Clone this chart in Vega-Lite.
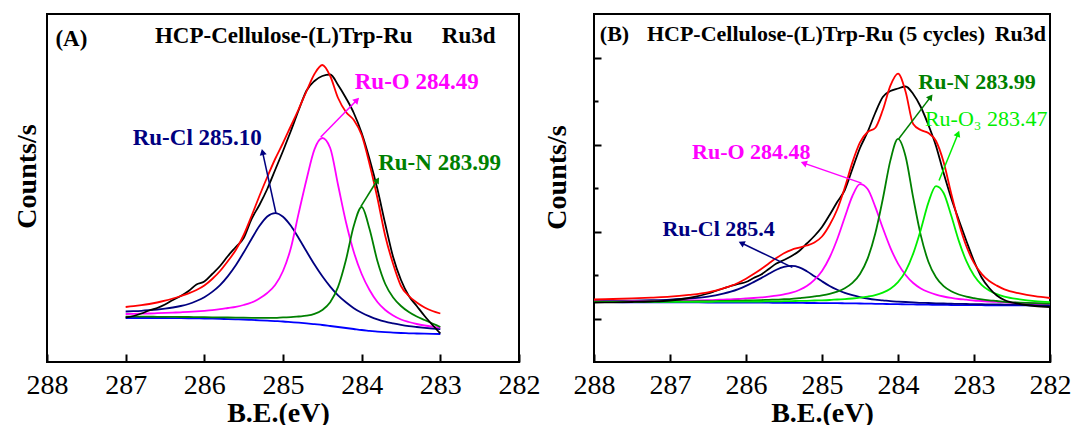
{
"$schema": "https://vega.github.io/schema/vega-lite/v6.json",
"background": "white",
"padding": {"left": 12, "top": 13, "right": 0, "bottom": 0},
"spacing": 75,
"bounds": "flush",
"config": {
  "view": {"stroke": "#000", "strokeWidth": 2},
  "font": "Liberation Serif",
  "axis": {"grid": false, "domain": false, "labelFont": "Liberation Serif", "titleFont": "Liberation Serif", "labelFontSize": 28, "titleFontSize": 28, "titleFontWeight": "bold", "labelColor": "#000", "titleColor": "#000", "tickColor": "#000", "tickWidth": 2}
},
"datasets": {
"A": [
{"E":287,"s":"bg","v":44},{"E":286.9,"s":"bg","v":44},{"E":286.8,"s":"bg","v":44},{"E":286.7,"s":"bg","v":44},{"E":286.6,"s":"bg","v":44},{"E":286.5,"s":"bg","v":44},{"E":286.4,"s":"bg","v":43.9},{"E":286.3,"s":"bg","v":43.8},{"E":286.2,"s":"bg","v":43.7},{"E":286.1,"s":"bg","v":43.6},{"E":286,"s":"bg","v":43.5},{"E":285.9,"s":"bg","v":43.3},{"E":285.8,"s":"bg","v":43.1},{"E":285.7,"s":"bg","v":42.9},{"E":285.6,"s":"bg","v":42.7},{"E":285.5,"s":"bg","v":42.5},{"E":285.4,"s":"bg","v":42.1},{"E":285.3,"s":"bg","v":41.7},{"E":285.2,"s":"bg","v":41.3},{"E":285.1,"s":"bg","v":40.9},{"E":285,"s":"bg","v":40.5},{"E":284.9,"s":"bg","v":39.9},{"E":284.8,"s":"bg","v":39.3},{"E":284.7,"s":"bg","v":38.6},{"E":284.6,"s":"bg","v":37.8},{"E":284.5,"s":"bg","v":37},{"E":284.4,"s":"bg","v":36},{"E":284.3,"s":"bg","v":35},{"E":284.2,"s":"bg","v":34},{"E":284.1,"s":"bg","v":33},{"E":284,"s":"bg","v":32},{"E":283.9,"s":"bg","v":31.2},{"E":283.8,"s":"bg","v":30.4},{"E":283.7,"s":"bg","v":29.8},{"E":283.6,"s":"bg","v":29.4},{"E":283.5,"s":"bg","v":29},{"E":283.4,"s":"bg","v":28.7},{"E":283.3,"s":"bg","v":28.5},{"E":283.2,"s":"bg","v":28.3},{"E":283.1,"s":"bg","v":28.1},{"E":283,"s":"bg","v":28},
{"E":287,"s":"Cl","v":50.5},{"E":286.9,"s":"Cl","v":50.8},{"E":286.8,"s":"Cl","v":51.2},{"E":286.7,"s":"Cl","v":51.8},{"E":286.6,"s":"Cl","v":52.5},{"E":286.5,"s":"Cl","v":53.4},{"E":286.4,"s":"Cl","v":54.5},{"E":286.3,"s":"Cl","v":56},{"E":286.2,"s":"Cl","v":58},{"E":286.1,"s":"Cl","v":61},{"E":286,"s":"Cl","v":64.8},{"E":285.9,"s":"Cl","v":70.1},{"E":285.8,"s":"Cl","v":76.9},{"E":285.7,"s":"Cl","v":85.9},{"E":285.6,"s":"Cl","v":96.7},{"E":285.5,"s":"Cl","v":109.5},{"E":285.4,"s":"Cl","v":123},{"E":285.3,"s":"Cl","v":135.9},{"E":285.2,"s":"Cl","v":145.5},{"E":285.1,"s":"Cl","v":148.9},{"E":285,"s":"Cl","v":145.3},{"E":284.9,"s":"Cl","v":136.2},{"E":284.8,"s":"Cl","v":123.8},{"E":284.7,"s":"Cl","v":110.5},{"E":284.6,"s":"Cl","v":97.5},{"E":284.5,"s":"Cl","v":85.7},{"E":284.4,"s":"Cl","v":75.4},{"E":284.3,"s":"Cl","v":66.6},{"E":284.2,"s":"Cl","v":59.7},{"E":284.1,"s":"Cl","v":53.8},{"E":284,"s":"Cl","v":49.2},{"E":283.9,"s":"Cl","v":45.6},{"E":283.8,"s":"Cl","v":42.6},{"E":283.7,"s":"Cl","v":40.3},{"E":283.6,"s":"Cl","v":38.6},{"E":283.5,"s":"Cl","v":37.1},{"E":283.4,"s":"Cl","v":35.9},{"E":283.3,"s":"Cl","v":35},{"E":283.2,"s":"Cl","v":34.2},{"E":283.1,"s":"Cl","v":33.5},{"E":283,"s":"Cl","v":32.9},
{"E":287,"s":"O","v":48},{"E":286.9,"s":"O","v":48.1},{"E":286.8,"s":"O","v":48.3},{"E":286.7,"s":"O","v":48.5},{"E":286.6,"s":"O","v":48.8},{"E":286.5,"s":"O","v":49.1},{"E":286.4,"s":"O","v":49.4},{"E":286.3,"s":"O","v":49.7},{"E":286.2,"s":"O","v":50.1},{"E":286.1,"s":"O","v":50.6},{"E":286,"s":"O","v":51.2},{"E":285.9,"s":"O","v":51.9},{"E":285.8,"s":"O","v":52.8},{"E":285.7,"s":"O","v":54},{"E":285.6,"s":"O","v":55.2},{"E":285.5,"s":"O","v":57},{"E":285.4,"s":"O","v":59.5},{"E":285.3,"s":"O","v":63.5},{"E":285.2,"s":"O","v":69},{"E":285.1,"s":"O","v":77},{"E":285,"s":"O","v":91},{"E":284.9,"s":"O","v":114},{"E":284.8,"s":"O","v":149.1},{"E":284.7,"s":"O","v":182.8},{"E":284.6,"s":"O","v":212.6},{"E":284.5,"s":"O","v":224},{"E":284.4,"s":"O","v":214},{"E":284.3,"s":"O","v":177},{"E":284.2,"s":"O","v":140},{"E":284.1,"s":"O","v":110},{"E":284,"s":"O","v":88},{"E":283.9,"s":"O","v":72},{"E":283.8,"s":"O","v":60},{"E":283.7,"s":"O","v":52},{"E":283.6,"s":"O","v":46.5},{"E":283.5,"s":"O","v":42.5},{"E":283.4,"s":"O","v":40},{"E":283.3,"s":"O","v":38},{"E":283.2,"s":"O","v":36.5},{"E":283.1,"s":"O","v":35.3},{"E":283,"s":"O","v":34.3},
{"E":287,"s":"N","v":45.3},{"E":286.9,"s":"N","v":45.3},{"E":286.8,"s":"N","v":45.3},{"E":286.7,"s":"N","v":45.3},{"E":286.6,"s":"N","v":45.2},{"E":286.5,"s":"N","v":45.2},{"E":286.4,"s":"N","v":45.1},{"E":286.3,"s":"N","v":45},{"E":286.2,"s":"N","v":45},{"E":286.1,"s":"N","v":44.9},{"E":286,"s":"N","v":44.8},{"E":285.9,"s":"N","v":44.7},{"E":285.8,"s":"N","v":44.6},{"E":285.7,"s":"N","v":44.5},{"E":285.6,"s":"N","v":44.4},{"E":285.5,"s":"N","v":44.3},{"E":285.4,"s":"N","v":44.2},{"E":285.3,"s":"N","v":44.1},{"E":285.2,"s":"N","v":44.1},{"E":285.1,"s":"N","v":44.2},{"E":285,"s":"N","v":44.6},{"E":284.9,"s":"N","v":44.8},{"E":284.8,"s":"N","v":45.5},{"E":284.7,"s":"N","v":46.3},{"E":284.6,"s":"N","v":48.1},{"E":284.5,"s":"N","v":52},{"E":284.4,"s":"N","v":59.7},{"E":284.3,"s":"N","v":75.1},{"E":284.2,"s":"N","v":102},{"E":284.1,"s":"N","v":136.3},{"E":284,"s":"N","v":155},{"E":283.9,"s":"N","v":133},{"E":283.8,"s":"N","v":101},{"E":283.7,"s":"N","v":78},{"E":283.6,"s":"N","v":64.5},{"E":283.5,"s":"N","v":56},{"E":283.4,"s":"N","v":50},{"E":283.3,"s":"N","v":45.5},{"E":283.2,"s":"N","v":42},{"E":283.1,"s":"N","v":38.5},{"E":283,"s":"N","v":35},
{"E":287,"s":"exp","v":44.5},{"E":286.9,"s":"exp","v":46},{"E":286.8,"s":"exp","v":48.5},{"E":286.7,"s":"exp","v":51.5},{"E":286.6,"s":"exp","v":54},{"E":286.5,"s":"exp","v":57.5},{"E":286.4,"s":"exp","v":62},{"E":286.3,"s":"exp","v":66},{"E":286.2,"s":"exp","v":71},{"E":286.1,"s":"exp","v":77.5},{"E":286,"s":"exp","v":80.5},{"E":285.9,"s":"exp","v":88},{"E":285.8,"s":"exp","v":96},{"E":285.7,"s":"exp","v":106},{"E":285.6,"s":"exp","v":115},{"E":285.5,"s":"exp","v":124},{"E":285.4,"s":"exp","v":143},{"E":285.3,"s":"exp","v":157},{"E":285.2,"s":"exp","v":173},{"E":285.1,"s":"exp","v":192},{"E":285,"s":"exp","v":211},{"E":284.9,"s":"exp","v":231},{"E":284.8,"s":"exp","v":252},{"E":284.7,"s":"exp","v":271.5},{"E":284.6,"s":"exp","v":281},{"E":284.5,"s":"exp","v":286},{"E":284.4,"s":"exp","v":287.5},{"E":284.3,"s":"exp","v":277},{"E":284.2,"s":"exp","v":264},{"E":284.1,"s":"exp","v":249},{"E":284,"s":"exp","v":229},{"E":283.9,"s":"exp","v":203},{"E":283.8,"s":"exp","v":173},{"E":283.7,"s":"exp","v":138},{"E":283.6,"s":"exp","v":105},{"E":283.5,"s":"exp","v":82},{"E":283.4,"s":"exp","v":66},{"E":283.3,"s":"exp","v":56},{"E":283.2,"s":"exp","v":46},{"E":283.1,"s":"exp","v":37},{"E":283,"s":"exp","v":28.5},
{"E":287,"s":"fit","v":55},{"E":286.9,"s":"fit","v":55.8},{"E":286.8,"s":"fit","v":56.8},{"E":286.7,"s":"fit","v":58},{"E":286.6,"s":"fit","v":59.5},{"E":286.5,"s":"fit","v":61.3},{"E":286.4,"s":"fit","v":63.5},{"E":286.3,"s":"fit","v":66},{"E":286.2,"s":"fit","v":68.7},{"E":286.1,"s":"fit","v":72},{"E":286,"s":"fit","v":76.5},{"E":285.9,"s":"fit","v":83},{"E":285.8,"s":"fit","v":91},{"E":285.7,"s":"fit","v":101},{"E":285.6,"s":"fit","v":112},{"E":285.5,"s":"fit","v":127},{"E":285.4,"s":"fit","v":146},{"E":285.3,"s":"fit","v":166},{"E":285.2,"s":"fit","v":185},{"E":285.1,"s":"fit","v":203},{"E":285,"s":"fit","v":219},{"E":284.9,"s":"fit","v":236},{"E":284.8,"s":"fit","v":253},{"E":284.7,"s":"fit","v":271},{"E":284.6,"s":"fit","v":288},{"E":284.5,"s":"fit","v":297},{"E":284.4,"s":"fit","v":286},{"E":284.3,"s":"fit","v":264},{"E":284.2,"s":"fit","v":250},{"E":284.1,"s":"fit","v":242},{"E":284,"s":"fit","v":227},{"E":283.9,"s":"fit","v":198},{"E":283.8,"s":"fit","v":164},{"E":283.7,"s":"fit","v":126},{"E":283.6,"s":"fit","v":98},{"E":283.5,"s":"fit","v":76},{"E":283.4,"s":"fit","v":66},{"E":283.3,"s":"fit","v":59.5},{"E":283.2,"s":"fit","v":54.5},{"E":283.1,"s":"fit","v":51},{"E":283,"s":"fit","v":48.5}
],
"B": [
{"E":288,"s":"bg","v":59.8},{"E":287.75,"s":"bg","v":59.8},{"E":287.5,"s":"bg","v":59.7},{"E":287.25,"s":"bg","v":59.7},{"E":287,"s":"bg","v":59.6},{"E":286.75,"s":"bg","v":59.6},{"E":286.5,"s":"bg","v":59.5},{"E":286.4,"s":"bg","v":59.5},{"E":286.3,"s":"bg","v":59.5},{"E":286.2,"s":"bg","v":59.5},{"E":286.1,"s":"bg","v":59.4},{"E":286,"s":"bg","v":59.4},{"E":285.9,"s":"bg","v":59.4},{"E":285.8,"s":"bg","v":59.3},{"E":285.7,"s":"bg","v":59.3},{"E":285.6,"s":"bg","v":59.2},{"E":285.5,"s":"bg","v":59.2},{"E":285.4,"s":"bg","v":59.1},{"E":285.3,"s":"bg","v":59.1},{"E":285.2,"s":"bg","v":59},{"E":285.1,"s":"bg","v":59},{"E":285,"s":"bg","v":58.9},{"E":284.9,"s":"bg","v":58.8},{"E":284.8,"s":"bg","v":58.8},{"E":284.7,"s":"bg","v":58.7},{"E":284.6,"s":"bg","v":58.6},{"E":284.5,"s":"bg","v":58.5},{"E":284.4,"s":"bg","v":58.4},{"E":284.3,"s":"bg","v":58.2},{"E":284.2,"s":"bg","v":58.1},{"E":284.1,"s":"bg","v":57.9},{"E":284,"s":"bg","v":57.8},{"E":283.9,"s":"bg","v":57.7},{"E":283.8,"s":"bg","v":57.6},{"E":283.7,"s":"bg","v":57.4},{"E":283.6,"s":"bg","v":57.3},{"E":283.5,"s":"bg","v":57.2},{"E":283.4,"s":"bg","v":57.1},{"E":283.3,"s":"bg","v":57},{"E":283.2,"s":"bg","v":56.9},{"E":283.1,"s":"bg","v":56.9},{"E":283,"s":"bg","v":56.8},{"E":282.9,"s":"bg","v":56.8},{"E":282.8,"s":"bg","v":56.7},{"E":282.7,"s":"bg","v":56.7},{"E":282.6,"s":"bg","v":56.6},{"E":282.4,"s":"bg","v":56.6},{"E":282.2,"s":"bg","v":56.5},{"E":282,"s":"bg","v":56.5},
{"E":288,"s":"Cl","v":60.9},{"E":287.75,"s":"Cl","v":61.1},{"E":287.5,"s":"Cl","v":61.4},{"E":287.25,"s":"Cl","v":61.8},{"E":287,"s":"Cl","v":62.4},{"E":286.75,"s":"Cl","v":63.5},{"E":286.5,"s":"Cl","v":65.4},{"E":286.4,"s":"Cl","v":66.6},{"E":286.3,"s":"Cl","v":68.3},{"E":286.2,"s":"Cl","v":70.3},{"E":286.1,"s":"Cl","v":72.9},{"E":286,"s":"Cl","v":76.1},{"E":285.9,"s":"Cl","v":79.9},{"E":285.8,"s":"Cl","v":83.9},{"E":285.7,"s":"Cl","v":88.2},{"E":285.6,"s":"Cl","v":92.2},{"E":285.5,"s":"Cl","v":95.1},{"E":285.4,"s":"Cl","v":96.1},{"E":285.3,"s":"Cl","v":94.7},{"E":285.2,"s":"Cl","v":90.8},{"E":285.1,"s":"Cl","v":85.8},{"E":285,"s":"Cl","v":80.7},{"E":284.9,"s":"Cl","v":76},{"E":284.8,"s":"Cl","v":72.2},{"E":284.7,"s":"Cl","v":69.1},{"E":284.6,"s":"Cl","v":66.8},{"E":284.5,"s":"Cl","v":64.9},{"E":284.4,"s":"Cl","v":63.5},{"E":284.3,"s":"Cl","v":62.4},{"E":284.2,"s":"Cl","v":61.7},{"E":284.1,"s":"Cl","v":60.9},{"E":284,"s":"Cl","v":60.4},{"E":283.9,"s":"Cl","v":60},{"E":283.8,"s":"Cl","v":59.7},{"E":283.7,"s":"Cl","v":59.2},{"E":283.6,"s":"Cl","v":59},{"E":283.5,"s":"Cl","v":58.7},{"E":283.4,"s":"Cl","v":58.5},{"E":283.3,"s":"Cl","v":58.3},{"E":283.2,"s":"Cl","v":58.1},{"E":283.1,"s":"Cl","v":58},{"E":283,"s":"Cl","v":57.8},{"E":282.9,"s":"Cl","v":57.75},{"E":282.8,"s":"Cl","v":57.6},{"E":282.7,"s":"Cl","v":57.55},{"E":282.6,"s":"Cl","v":57.4},{"E":282.4,"s":"Cl","v":57.3},{"E":282.2,"s":"Cl","v":57.15},{"E":282,"s":"Cl","v":57.1},
{"E":288,"s":"O","v":60.6},{"E":287.75,"s":"O","v":60.7},{"E":287.5,"s":"O","v":60.75},{"E":287.25,"s":"O","v":61},{"E":287,"s":"O","v":61.1},{"E":286.75,"s":"O","v":61.5},{"E":286.5,"s":"O","v":61.8},{"E":286.4,"s":"O","v":62.1},{"E":286.3,"s":"O","v":62.4},{"E":286.2,"s":"O","v":62.7},{"E":286.1,"s":"O","v":63},{"E":286,"s":"O","v":63.5},{"E":285.9,"s":"O","v":64},{"E":285.8,"s":"O","v":64.6},{"E":285.7,"s":"O","v":65.4},{"E":285.6,"s":"O","v":66.3},{"E":285.5,"s":"O","v":67.6},{"E":285.4,"s":"O","v":69.3},{"E":285.3,"s":"O","v":72},{"E":285.2,"s":"O","v":75.9},{"E":285.1,"s":"O","v":82.1},{"E":285,"s":"O","v":91},{"E":284.9,"s":"O","v":104.5},{"E":284.8,"s":"O","v":122.8},{"E":284.7,"s":"O","v":144.8},{"E":284.6,"s":"O","v":166},{"E":284.5,"s":"O","v":177.8},{"E":284.4,"s":"O","v":173},{"E":284.3,"s":"O","v":155.4},{"E":284.2,"s":"O","v":134},{"E":284.1,"s":"O","v":114.2},{"E":284,"s":"O","v":98.4},{"E":283.9,"s":"O","v":87},{"E":283.8,"s":"O","v":79},{"E":283.7,"s":"O","v":73.6},{"E":283.6,"s":"O","v":70},{"E":283.5,"s":"O","v":67.4},{"E":283.4,"s":"O","v":65.5},{"E":283.3,"s":"O","v":64.1},{"E":283.2,"s":"O","v":63},{"E":283.1,"s":"O","v":62.3},{"E":283,"s":"O","v":61.5},{"E":282.9,"s":"O","v":61},{"E":282.8,"s":"O","v":60.4},{"E":282.7,"s":"O","v":60.1},{"E":282.6,"s":"O","v":59.6},{"E":282.4,"s":"O","v":59.1},{"E":282.2,"s":"O","v":58.5},{"E":282,"s":"O","v":58.2},
{"E":288,"s":"N","v":60.3},{"E":287.75,"s":"N","v":60.4},{"E":287.5,"s":"N","v":60.4},{"E":287.25,"s":"N","v":60.5},{"E":287,"s":"N","v":60.5},{"E":286.75,"s":"N","v":60.7},{"E":286.5,"s":"N","v":60.8},{"E":286.4,"s":"N","v":60.9},{"E":286.3,"s":"N","v":61.1},{"E":286.2,"s":"N","v":61.2},{"E":286.1,"s":"N","v":61.3},{"E":286,"s":"N","v":61.5},{"E":285.9,"s":"N","v":61.7},{"E":285.8,"s":"N","v":61.9},{"E":285.7,"s":"N","v":62.2},{"E":285.6,"s":"N","v":62.4},{"E":285.5,"s":"N","v":62.8},{"E":285.4,"s":"N","v":63.2},{"E":285.3,"s":"N","v":63.9},{"E":285.2,"s":"N","v":64.6},{"E":285.1,"s":"N","v":65.6},{"E":285,"s":"N","v":66.7},{"E":284.9,"s":"N","v":68.2},{"E":284.8,"s":"N","v":70.4},{"E":284.7,"s":"N","v":73.8},{"E":284.6,"s":"N","v":79.1},{"E":284.5,"s":"N","v":88.1},{"E":284.4,"s":"N","v":103.4},{"E":284.3,"s":"N","v":128.2},{"E":284.2,"s":"N","v":163},{"E":284.1,"s":"N","v":201.6},{"E":284,"s":"N","v":223.1},{"E":283.9,"s":"N","v":205.5},{"E":283.8,"s":"N","v":164.3},{"E":283.7,"s":"N","v":126.6},{"E":283.6,"s":"N","v":100.3},{"E":283.5,"s":"N","v":84.7},{"E":283.4,"s":"N","v":75.8},{"E":283.3,"s":"N","v":70.7},{"E":283.2,"s":"N","v":67.5},{"E":283.1,"s":"N","v":65.3},{"E":283,"s":"N","v":63.8},{"E":282.9,"s":"N","v":62.6},{"E":282.8,"s":"N","v":61.7},{"E":282.7,"s":"N","v":61},{"E":282.6,"s":"N","v":60.2},{"E":282.4,"s":"N","v":59.4},{"E":282.2,"s":"N","v":58.8},{"E":282,"s":"N","v":58.4},
{"E":288,"s":"O3","v":60.1},{"E":287.75,"s":"O3","v":60.1},{"E":287.5,"s":"O3","v":60.1},{"E":287.25,"s":"O3","v":60.2},{"E":287,"s":"O3","v":60.2},{"E":286.75,"s":"O3","v":60.2},{"E":286.5,"s":"O3","v":60.2},{"E":286.4,"s":"O3","v":60.3},{"E":286.3,"s":"O3","v":60.3},{"E":286.2,"s":"O3","v":60.4},{"E":286.1,"s":"O3","v":60.4},{"E":286,"s":"O3","v":60.4},{"E":285.9,"s":"O3","v":60.5},{"E":285.8,"s":"O3","v":60.5},{"E":285.7,"s":"O3","v":60.6},{"E":285.6,"s":"O3","v":60.6},{"E":285.5,"s":"O3","v":60.8},{"E":285.4,"s":"O3","v":60.9},{"E":285.3,"s":"O3","v":61.1},{"E":285.2,"s":"O3","v":61.2},{"E":285.1,"s":"O3","v":61.5},{"E":285,"s":"O3","v":61.7},{"E":284.9,"s":"O3","v":62},{"E":284.8,"s":"O3","v":62.5},{"E":284.7,"s":"O3","v":62.9},{"E":284.6,"s":"O3","v":63.5},{"E":284.5,"s":"O3","v":64.3},{"E":284.4,"s":"O3","v":65.4},{"E":284.3,"s":"O3","v":66.9},{"E":284.2,"s":"O3","v":69.4},{"E":284.1,"s":"O3","v":73.3},{"E":284,"s":"O3","v":79.8},{"E":283.9,"s":"O3","v":90.9},{"E":283.8,"s":"O3","v":108.4},{"E":283.7,"s":"O3","v":132.3},{"E":283.6,"s":"O3","v":159.4},{"E":283.5,"s":"O3","v":175.9},{"E":283.4,"s":"O3","v":169},{"E":283.3,"s":"O3","v":146.4},{"E":283.2,"s":"O3","v":121.1},{"E":283.1,"s":"O3","v":100.8},{"E":283,"s":"O3","v":86.4},{"E":282.9,"s":"O3","v":77.2},{"E":282.8,"s":"O3","v":71.4},{"E":282.7,"s":"O3","v":67.8},{"E":282.6,"s":"O3","v":65.3},{"E":282.4,"s":"O3","v":62.6},{"E":282.2,"s":"O3","v":60.8},{"E":282,"s":"O3","v":59.8},
{"E":288,"s":"exp","v":59.5},{"E":287.75,"s":"exp","v":59.7},{"E":287.5,"s":"exp","v":60},{"E":287.25,"s":"exp","v":60.5},{"E":287,"s":"exp","v":61.5},{"E":286.75,"s":"exp","v":64},{"E":286.5,"s":"exp","v":68.5},{"E":286.4,"s":"exp","v":71},{"E":286.3,"s":"exp","v":73.5},{"E":286.2,"s":"exp","v":76},{"E":286.1,"s":"exp","v":78},{"E":286,"s":"exp","v":80},{"E":285.9,"s":"exp","v":84},{"E":285.8,"s":"exp","v":87.5},{"E":285.7,"s":"exp","v":93},{"E":285.6,"s":"exp","v":98.5},{"E":285.5,"s":"exp","v":102},{"E":285.4,"s":"exp","v":106},{"E":285.3,"s":"exp","v":111},{"E":285.2,"s":"exp","v":118.5},{"E":285.1,"s":"exp","v":126},{"E":285,"s":"exp","v":135},{"E":284.9,"s":"exp","v":147},{"E":284.8,"s":"exp","v":160},{"E":284.7,"s":"exp","v":172},{"E":284.6,"s":"exp","v":193},{"E":284.5,"s":"exp","v":214},{"E":284.4,"s":"exp","v":230},{"E":284.3,"s":"exp","v":249},{"E":284.2,"s":"exp","v":265},{"E":284.1,"s":"exp","v":271},{"E":284,"s":"exp","v":273.5},{"E":283.9,"s":"exp","v":275.5},{"E":283.8,"s":"exp","v":268},{"E":283.7,"s":"exp","v":255},{"E":283.6,"s":"exp","v":237},{"E":283.5,"s":"exp","v":216},{"E":283.4,"s":"exp","v":189},{"E":283.3,"s":"exp","v":164},{"E":283.2,"s":"exp","v":142},{"E":283.1,"s":"exp","v":121},{"E":283,"s":"exp","v":101},{"E":282.9,"s":"exp","v":84.5},{"E":282.8,"s":"exp","v":74},{"E":282.7,"s":"exp","v":66.5},{"E":282.6,"s":"exp","v":62},{"E":282.4,"s":"exp","v":58},{"E":282.2,"s":"exp","v":56},{"E":282,"s":"exp","v":55},
{"E":288,"s":"fit","v":62.5},{"E":287.75,"s":"fit","v":63},{"E":287.5,"s":"fit","v":63.55},{"E":287.25,"s":"fit","v":64.4},{"E":287,"s":"fit","v":65.3},{"E":286.75,"s":"fit","v":67.1},{"E":286.5,"s":"fit","v":69.7},{"E":286.4,"s":"fit","v":71.4},{"E":286.3,"s":"fit","v":73.6},{"E":286.2,"s":"fit","v":76.1},{"E":286.1,"s":"fit","v":79.3},{"E":286,"s":"fit","v":83.3},{"E":285.9,"s":"fit","v":87.9},{"E":285.8,"s":"fit","v":93},{"E":285.7,"s":"fit","v":98.5},{"E":285.6,"s":"fit","v":103.9},{"E":285.5,"s":"fit","v":108.7},{"E":285.4,"s":"fit","v":112.2},{"E":285.3,"s":"fit","v":114.4},{"E":285.2,"s":"fit","v":116.5},{"E":285.1,"s":"fit","v":119.5},{"E":285,"s":"fit","v":125.5},{"E":284.9,"s":"fit","v":137},{"E":284.8,"s":"fit","v":152.5},{"E":284.7,"s":"fit","v":174.5},{"E":284.6,"s":"fit","v":199.6},{"E":284.5,"s":"fit","v":219.6},{"E":284.4,"s":"fit","v":230},{"E":284.3,"s":"fit","v":234},{"E":284.2,"s":"fit","v":252},{"E":284.1,"s":"fit","v":276.3},{"E":284,"s":"fit","v":288.3},{"E":283.9,"s":"fit","v":270.3},{"E":283.8,"s":"fit","v":238},{"E":283.7,"s":"fit","v":232},{"E":283.6,"s":"fit","v":229},{"E":283.5,"s":"fit","v":221},{"E":283.4,"s":"fit","v":200},{"E":283.3,"s":"fit","v":168.5},{"E":283.2,"s":"fit","v":139},{"E":283.1,"s":"fit","v":115.7},{"E":283,"s":"fit","v":99.1},{"E":282.9,"s":"fit","v":88.2},{"E":282.8,"s":"fit","v":81},{"E":282.7,"s":"fit","v":76.4},{"E":282.6,"s":"fit","v":72.7},{"E":282.4,"s":"fit","v":68.6},{"E":282.2,"s":"fit","v":65.8},{"E":282,"s":"fit","v":64}
],
"arrA": [{"E":285.09,"v":149,"E2":285.26,"v2":210,"s":"Cl","ang":347},{"E":284.52,"v":225,"E2":284.06,"v2":262,"s":"O","ang":44},{"E":284.01,"v":155.5,"E2":283.8,"v2":182,"s":"N","ang":32}],
"txtA": [{"E":287.69,"v":323,"t":"(A)","s":"exp"},{"E":284.99,"v":326,"t":"HCP-Cellulose-(L)Trp-Ru","s":"exp"},{"E":282.64,"v":326,"t":"Ru3d","s":"exp"},{"E":286.09,"v":224,"t":"Ru-Cl 285.10","s":"Cl"},{"E":283.3,"v":280,"t":"Ru-O 284.49","s":"O"},{"E":283.01,"v":199,"t":"Ru-N 283.99","s":"N"}],
"arrB": [{"E":285.39,"v":94.6,"E2":286.06,"v2":119,"s":"Cl","ang":296},{"E":284.48,"v":178.9,"E2":285.24,"v2":198.9,"s":"O","ang":289},{"E":283.99,"v":223.3,"E2":283.57,"v2":265.1,"s":"N","ang":37},{"E":283.46,"v":181.5,"E2":283.21,"v2":228.3,"s":"O3","ang":22}],
"txtB": [{"E":287.73,"v":328,"t":"(B)","s":"exp"},{"E":285.08,"v":328,"t":"HCP-Cellulose-(L)Trp-Ru (5 cycles)","s":"exp"},{"E":282.39,"v":328,"t":"Ru3d","s":"exp"},{"E":286.36,"v":133,"t":"Ru-Cl 285.4","s":"Cl"},{"E":285.93,"v":210,"t":"Ru-O 284.48","s":"O"},{"E":282.96,"v":280,"t":"Ru-N 283.99","s":"N"}],
"txtB2": [{"E":282.84,"v":243.4,"t":"Ru-O₃ 283.47","s":"O3"}]
},
"hconcat": [
{
 "width": 472, "height": 348,
 "layer": [
  {"data": {"name": "A"}, "mark": {"type": "line", "interpolate": "monotone", "strokeWidth": 1.8},
   "encoding": {
    "x": {"field": "E", "type": "quantitative", "scale": {"domain": [282, 288], "reverse": true, "nice": false, "zero": false},
      "axis": {"title": "B.E.(eV)", "values": [282,282.5,283,283.5,284,284.5,285,285.5,286,286.5,287,287.5,288], "labelExpr": "datum.value % 1 === 0 ? format(datum.value, 'd') : ''", "tickSize": {"condition": {"test": "datum.value % 1 === 0", "value": -8}, "value": -4}, "labelPadding": 17, "labelFlush": false, "labelOverlap": false, "titlePadding": 0, "titleX": 231}},
    "y": {"field": "v", "type": "quantitative", "scale": {"domain": [0, 348], "nice": false, "zero": false},
      "axis": {"title": "Counts/s", "ticks": false, "labels": false, "titlePadding": 6, "titleY": 162}},
    "color": {"field": "s", "type": "nominal", "scale": {"domain": ["bg","Cl","O","N","O3","exp","fit"], "range": ["#0000ff","#000080","#ff00ff","#008000","#00ee00","#000000","#ff0000"]}, "legend": null}
   }},
  {"data": {"name": "arrA"}, "mark": {"type": "rule", "strokeWidth": 1.5},
   "encoding": {"x": {"field": "E", "type": "quantitative"}, "y": {"field": "v", "type": "quantitative"}, "x2": {"field": "E2"}, "y2": {"field": "v2"},
    "color": {"field": "s", "type": "nominal", "scale": {"domain": ["bg","Cl","O","N","O3","exp","fit"], "range": ["#0000ff","#000080","#ff00ff","#008000","#00ee00","#000000","#ff0000"]}, "legend": null}}},
  {"data": {"name": "arrA"}, "mark": {"type": "point", "shape": "triangle-up", "filled": true, "size": 50, "opacity": 1},
   "encoding": {"x": {"field": "E2", "type": "quantitative"}, "y": {"field": "v2", "type": "quantitative"}, "angle": {"field": "ang", "type": "quantitative", "scale": null},
    "color": {"field": "s", "type": "nominal", "scale": {"domain": ["bg","Cl","O","N","O3","exp","fit"], "range": ["#0000ff","#000080","#ff00ff","#008000","#00ee00","#000000","#ff0000"]}, "legend": null}}},
  {"data": {"name": "txtA"}, "mark": {"type": "text", "font": "Liberation Serif", "fontWeight": "bold", "fontSize": 23, "align": "center", "baseline": "middle"},
   "encoding": {"x": {"field": "E", "type": "quantitative"}, "y": {"field": "v", "type": "quantitative"}, "text": {"field": "t"},
    "color": {"field": "s", "type": "nominal", "scale": {"domain": ["bg","Cl","O","N","O3","exp","fit"], "range": ["#0000ff","#000080","#ff00ff","#008000","#00ee00","#000000","#ff0000"]}, "legend": null}}}
 ]
},
{
 "width": 456, "height": 348,
 "layer": [
  {"data": {"name": "B"}, "mark": {"type": "line", "interpolate": "monotone", "strokeWidth": 1.8},
   "encoding": {
    "x": {"field": "E", "type": "quantitative", "scale": {"domain": [282, 288], "reverse": true, "nice": false, "zero": false},
      "axis": {"title": "B.E.(eV)", "values": [282,282.5,283,283.5,284,284.5,285,285.5,286,286.5,287,287.5,288], "labelExpr": "datum.value % 1 === 0 ? format(datum.value, 'd') : ''", "tickSize": {"condition": {"test": "datum.value % 1 === 0", "value": -8}, "value": -4}, "labelPadding": 17, "labelFlush": false, "labelOverlap": false, "titlePadding": 0}},
    "y": {"field": "v", "type": "quantitative", "scale": {"domain": [0, 348], "nice": false, "zero": false},
      "axis": {"title": "Counts/s", "values": [43.5,87,130.5,174,217.5,261,304.5], "labels": false, "tickSize": {"condition": {"test": "datum.value == 87 || datum.value == 174 || datum.value == 261", "value": -4}, "value": -7}, "titlePadding": 22, "titleY": 163}},
    "color": {"field": "s", "type": "nominal", "scale": {"domain": ["bg","Cl","O","N","O3","exp","fit"], "range": ["#0000ff","#000080","#ff00ff","#008000","#00ee00","#000000","#ff0000"]}, "legend": null}
   }},
  {"data": {"name": "arrB"}, "mark": {"type": "rule", "strokeWidth": 1.5},
   "encoding": {"x": {"field": "E", "type": "quantitative"}, "y": {"field": "v", "type": "quantitative"}, "x2": {"field": "E2"}, "y2": {"field": "v2"},
    "color": {"field": "s", "type": "nominal", "scale": {"domain": ["bg","Cl","O","N","O3","exp","fit"], "range": ["#0000ff","#000080","#ff00ff","#008000","#00ee00","#000000","#ff0000"]}, "legend": null}}},
  {"data": {"name": "arrB"}, "mark": {"type": "point", "shape": "triangle-up", "filled": true, "size": 50, "opacity": 1},
   "encoding": {"x": {"field": "E2", "type": "quantitative"}, "y": {"field": "v2", "type": "quantitative"}, "angle": {"field": "ang", "type": "quantitative", "scale": null},
    "color": {"field": "s", "type": "nominal", "scale": {"domain": ["bg","Cl","O","N","O3","exp","fit"], "range": ["#0000ff","#000080","#ff00ff","#008000","#00ee00","#000000","#ff0000"]}, "legend": null}}},
  {"data": {"name": "txtB"}, "mark": {"type": "text", "font": "Liberation Serif", "fontWeight": "bold", "fontSize": 22, "align": "center", "baseline": "middle"},
   "encoding": {"x": {"field": "E", "type": "quantitative"}, "y": {"field": "v", "type": "quantitative"}, "text": {"field": "t"},
    "color": {"field": "s", "type": "nominal", "scale": {"domain": ["bg","Cl","O","N","O3","exp","fit"], "range": ["#0000ff","#000080","#ff00ff","#008000","#00ee00","#000000","#ff0000"]}, "legend": null}}},
  {"data": {"name": "txtB2"}, "mark": {"type": "text", "font": "Liberation Serif", "fontWeight": "normal", "fontSize": 22, "align": "center", "baseline": "middle"},
   "encoding": {"x": {"field": "E", "type": "quantitative"}, "y": {"field": "v", "type": "quantitative"}, "text": {"field": "t"},
    "color": {"field": "s", "type": "nominal", "scale": {"domain": ["bg","Cl","O","N","O3","exp","fit"], "range": ["#0000ff","#000080","#ff00ff","#008000","#00ee00","#000000","#ff0000"]}, "legend": null}}}
 ]
}
]
}
